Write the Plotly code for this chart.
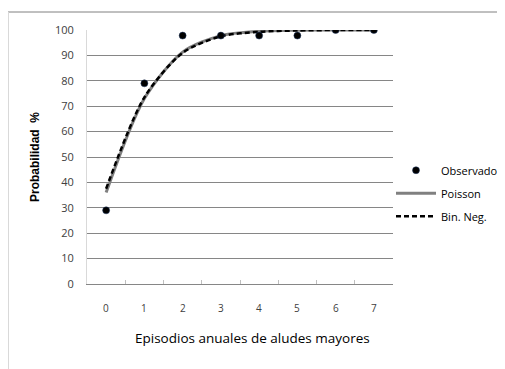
import plotly.graph_objects as go

categories = ["0", "1", "2", "3", "4", "5", "6", "7"]
observado = [29, 79, 97.8, 97.8, 97.8, 97.8, 100, 100]
poisson = [36, 73, 91.3, 97.8, 99.5, 99.9, 100, 100]
bin_neg = [37.5, 73.5, 91, 97.5, 99.3, 99.8, 100, 100]
y_ticks = [0, 10, 20, 30, 40, 50, 60, 70, 80, 90, 100]

FONT = "Open Sans"

fig = go.Figure()
fig.add_trace(go.Scatter(
    x=categories, y=poisson, mode="lines", name="Poisson",
    line=dict(color="#808080", width=3, shape="spline", smoothing=0.8),
    legendgroup="b", legendrank=2))
fig.add_trace(go.Scatter(
    x=categories, y=bin_neg, mode="lines", name="Bin. Neg.",
    line=dict(color="#000000", width=2.5, dash="5px,3px", shape="spline", smoothing=0.8),
    legendgroup="c", legendrank=3))
fig.add_trace(go.Scatter(
    x=categories, y=observado, mode="markers", name="Observado",
    marker=dict(color="#000000", size=7, line=dict(color="#1f3864", width=0.5)),
    legendgroup="a", legendrank=1))

fig.update_layout(
    width=505, height=369,
    margin=dict(l=79, r=120, t=22, b=93, autoexpand=False),
    paper_bgcolor="white", plot_bgcolor="white",
    font=dict(family=FONT, size=11, color="#000000"),
    showlegend=True,
    legend=dict(x=1.0 - 2 / 306, xanchor="left", y=0.505, yanchor="top",
                traceorder="grouped", tracegroupgap=4,
                font=dict(family=FONT, size=11, color="#000000"),
                bgcolor="rgba(0,0,0,0)", itemwidth=40),
    xaxis=dict(
        type="category", range=[-0.5, 7.5], automargin=False,
        showgrid=False, showline=True, linecolor="#868686", linewidth=1,
        ticks="inside", tickson="boundaries", ticklen=4, tickcolor="#bfbfbf",
        showticklabels=False,
        fixedrange=True,
    ),
    yaxis=dict(
        range=[0, 100], tickvals=y_ticks, automargin=False,
        showgrid=True, gridcolor="#868686", gridwidth=1,
        showline=True, linecolor="#d9d9d9", linewidth=1,
        zeroline=False, ticks="outside", ticklen=10, tickcolor="rgba(0,0,0,0)",
        tickfont=dict(family=FONT, size=11, color="#404040"),
        title=dict(text="Probabilidad  %",
                   font=dict(family="Liberation Sans", size=12, color="#000000", weight="bold"),
                   standoff=12),
        fixedrange=True,
    ),
)

# category labels placed under the axis through the x scale
for c in categories:
    fig.add_annotation(text=c, x=c, xref="x", y=0, yref="paper",
                       yanchor="top", yshift=-15, showarrow=False,
                       font=dict(family=FONT, size=10, color="#404040"))

fig.add_annotation(text="Episodios anuales de aludes mayores",
                   xref="paper", yref="paper", x=(244 - 79) / 306, y=-54 / 254,
                   xanchor="center", yanchor="middle", showarrow=False,
                   font=dict(family=FONT, size=13.5, color="#000000"))

fig.add_shape(type="line", xref="paper", yref="paper",
              x0=-79 / 306, x1=426 / 306, y0=1.0 + 18 / 254, y1=1.0 + 18 / 254,
              line=dict(color="#808080", width=1))
fig.add_shape(type="line", xref="paper", yref="paper",
              x0=-78.5 / 306, x1=-78.5 / 306, y0=-93 / 254, y1=1.0 + 18 / 254,
              line=dict(color="#d9d9d9", width=1))

fig.write_html("out.html")
